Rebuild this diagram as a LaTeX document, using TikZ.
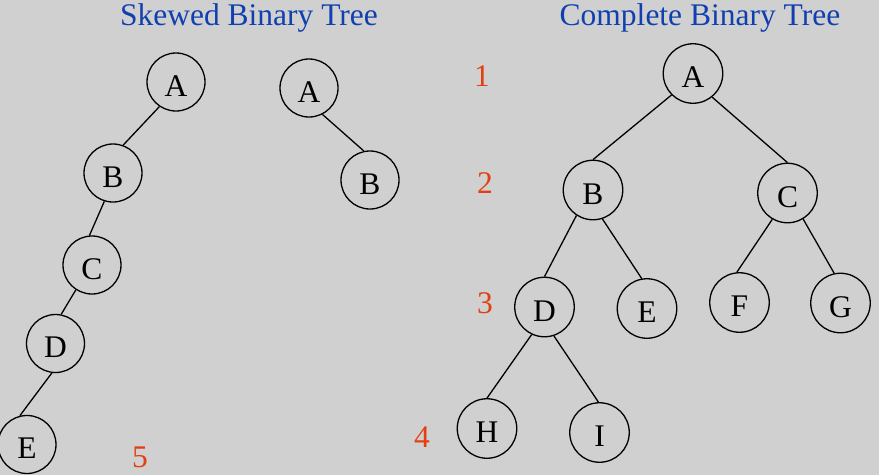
\documentclass[tikz,border=0pt]{standalone}
\usepackage{fontspec}
\setmainfont{Liberation Serif}
\definecolor{paper}{RGB}{208,208,208}
\definecolor{titleblue}{RGB}{16,64,176}
\definecolor{levelred}{RGB}{226,64,16}
\begin{document}
\begin{tikzpicture}[x=1pt,y=-1pt,
  bigtext/.style={font=\fontsize{31.5}{36}\selectfont},
  treenode/.style={circle,draw,line width=1.3pt,minimum size=58pt,inner sep=0pt,
    bigtext,text height=28pt,text depth=0pt},
  bignode/.style={treenode,minimum size=59.5pt},
  edge/.style={line width=1.3pt},
  heading/.style={bigtext,text=titleblue,anchor=base},
  level/.style={bigtext,text=levelred}]
\fill[paper] (0,0) rectangle (879,475);
\useasboundingbox (0,0) rectangle (879,475);

% titles
\node[heading] (t1) at (249,25) {Skewed Binary Tree};
\node[heading] (t2) at (700,25) {Complete Binary Tree};

% skewed tree, five levels
\node[treenode] (sa) at (176,82) {A};
\node[treenode] (sb) at (113,173) {B};
\node[treenode] (sc) at (92,265) {C};
\node[treenode] (sd) at (55.5,343.5) {D};
\node[treenode] (se) at (27,444.5) {E};
\draw[edge] (sa.236) -- (sb.70);
\draw[edge] (sb.253) -- (sc.95);
\draw[edge] (sc.237) -- (sd.79);
\draw[edge] (sd.263) -- (se.104);

% skewed tree, two nodes
\node[treenode] (ra) at (309,88) {A};
\node[treenode] (rb) at (370,180) {B};
\draw[edge] (ra.297) -- (rb.102);

% level numbers
\node[level] (l1) at (482,76) {1};
\node[level] (l2) at (485,183) {2};
\node[level] (l3) at (485,303) {3};
\node[level] (l4) at (422,437) {4};
\node[level] (l5) at (140,457) {5};

% complete tree
\node[bignode] (ca) at (693,73.5) {A};
\node[bignode] (cb) at (593,190) {B};
\node[bignode] (cc) at (787.5,193) {C};
\node[bignode] (cd) at (544.5,307) {D};
\node[bignode] (ce) at (647,308.5) {E};
\node[bignode] (cf) at (739.5,302.5) {F};
\node[bignode] (cg) at (840.5,303) {G};
\node[bignode] (ch) at (487,428.5) {H};
\node[bignode] (ci) at (599.5,432.5) {I};
\draw[edge] (ca.225) -- (cb.90);
\draw[edge] (ca.309) -- (cc.90);
\draw[edge] (cb.237) -- (cd.90);
\draw[edge] (cb.288) -- (ce.100);
\draw[edge] (cc.240) -- (cf.95);
\draw[edge] (cc.301) -- (cg.102);
\draw[edge] (cd.245) -- (ch.90);
\draw[edge] (cd.288) -- (ci.92);
\end{tikzpicture}
\end{document}
